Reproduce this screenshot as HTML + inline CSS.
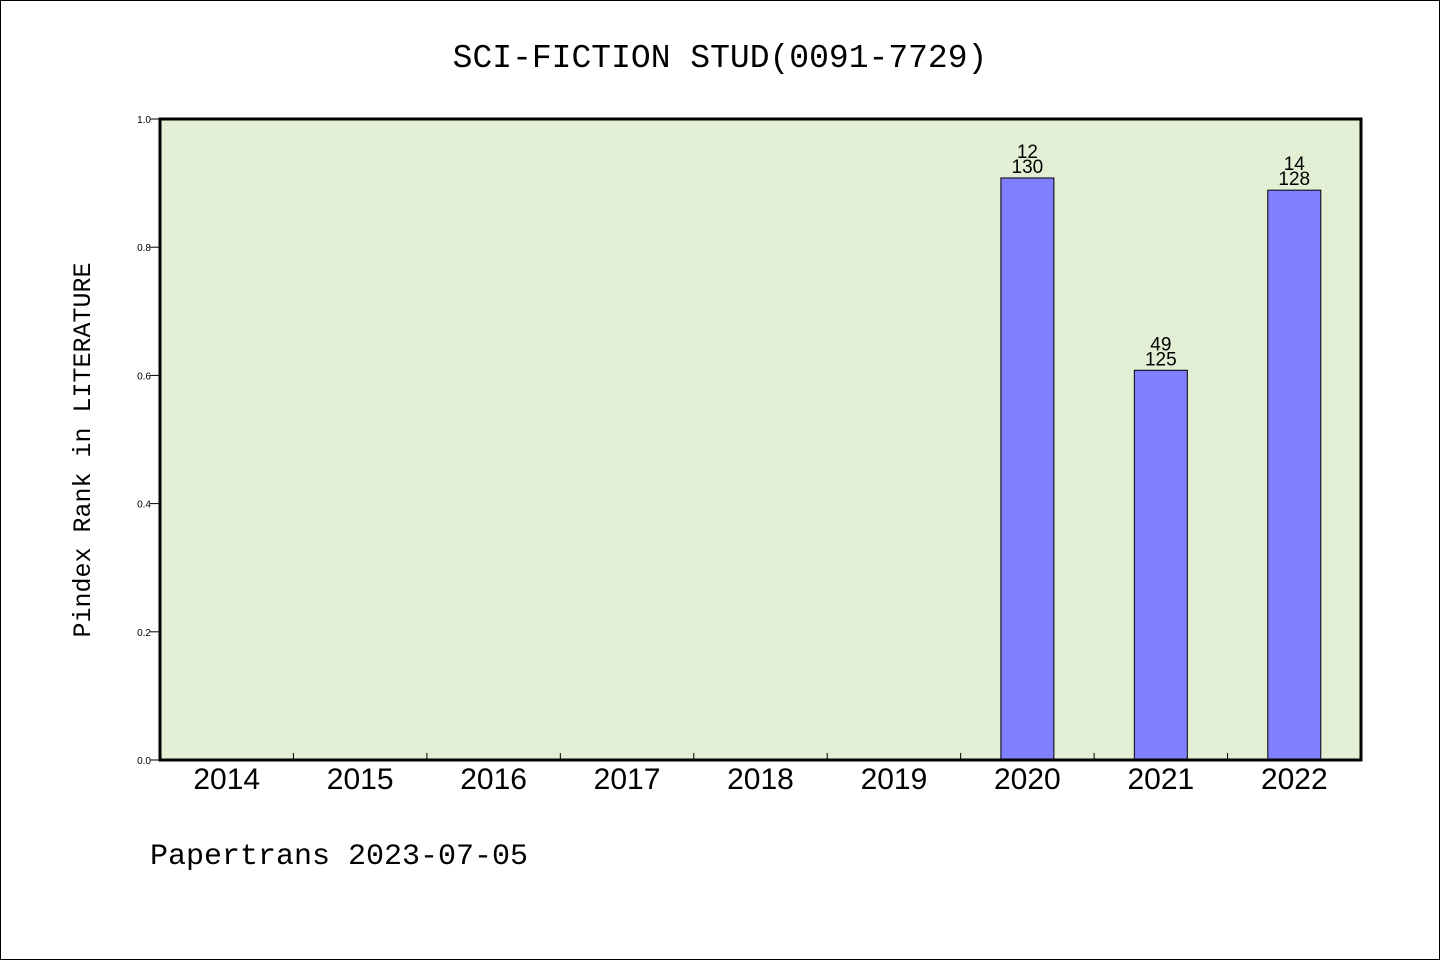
<!DOCTYPE html>
<html><head><meta charset="utf-8"><style>
html,body{margin:0;padding:0;background:#fff;}
svg{display:block;}
</style></head><body>
<svg id="chart" width="1440" height="960" xmlns="http://www.w3.org/2000/svg">
<rect x="0.5" y="0.5" width="1439" height="959" fill="#fff" stroke="#000"/>
<text x="720" y="67" text-anchor="middle" font-family="Liberation Mono, monospace" font-size="33">SCI-FICTION STUD(0091-7729)</text>
<text transform="translate(90,450) rotate(-90)" text-anchor="middle" font-family="Liberation Mono, monospace" font-size="25">Pindex Rank in LITERATURE</text>
<text x="150" y="864" font-family="Liberation Mono, monospace" font-size="30">Papertrans 2023-07-05</text>
<rect x="160" y="119" width="1201" height="641" fill="#e2efd5"/>
<g id="marks"></g>
<rect x="160" y="119" width="1201" height="641" fill="none" stroke="#000" stroke-width="3"/>
</svg>
<script>
const categories = ["2014","2015","2016","2017","2018","2019","2020","2021","2022"];
const values = [null,null,null,null,null,null,0.908,0.608,0.889];
const topLabels = ["","","","","","","12","49","14"];
const bottomLabels = ["","","","","","","130","125","128"];
const yTicks = [0,0.2,0.4,0.6,0.8,1.0];
const tickLabels = ["0.0","0.2","0.4","0.6","0.8","1.0"];

const X0=160, X1=1361, Y0=760, Y1=119;
const NS="http://www.w3.org/2000/svg";
const step=(X1-X0)/categories.length;
function xc(i){return X0+step*(i+0.5);}
function y(v){return Y0-(Y0-Y1)*v;}
const g=document.getElementById('marks');
function mk(t,a){const e=document.createElementNS(NS,t);for(const k in a)e.setAttribute(k,a[k]);g.appendChild(e);return e;}

yTicks.forEach((v,i)=>{
  const l=mk('line',{x1:150,x2:160,y1:y(v),y2:y(v),stroke:'#000','stroke-width':1});
  
  
  const t=mk('text',{x:151,y:y(v)+4,'text-anchor':'end','font-family':'Liberation Sans, sans-serif','font-size':10});
  t.textContent=tickLabels[i];
  
  
});
categories.forEach((c,i)=>{
  if(i>0){
    const l=mk('line',{x1:X0+step*i,x2:X0+step*i,y1:Y0,y2:Y0-7,stroke:'#000','stroke-width':1});
    
    
  }
  const t=mk('text',{x:xc(i),y:789,'text-anchor':'middle','font-family':'Liberation Sans, sans-serif','font-size':30});
  t.textContent=c;
  
  
  const v=values[i];
  if(v!=null){
    const bw=53;
    const b=mk('rect',{x:xc(i)-bw/2,y:y(v),width:bw,height:Y0-y(v),fill:'#8080ff',stroke:'#000','stroke-width':1});
    
    
    const t1=mk('text',{x:xc(i),y:y(v)-20,'text-anchor':'middle','font-family':'Liberation Sans, sans-serif','font-size':19});
    t1.textContent=topLabels[i];
    
    
    const t2=mk('text',{x:xc(i),y:y(v)-5,'text-anchor':'middle','font-family':'Liberation Sans, sans-serif','font-size':19});
    t2.textContent=bottomLabels[i];
    
    
  }
});
</script>
</body></html>
